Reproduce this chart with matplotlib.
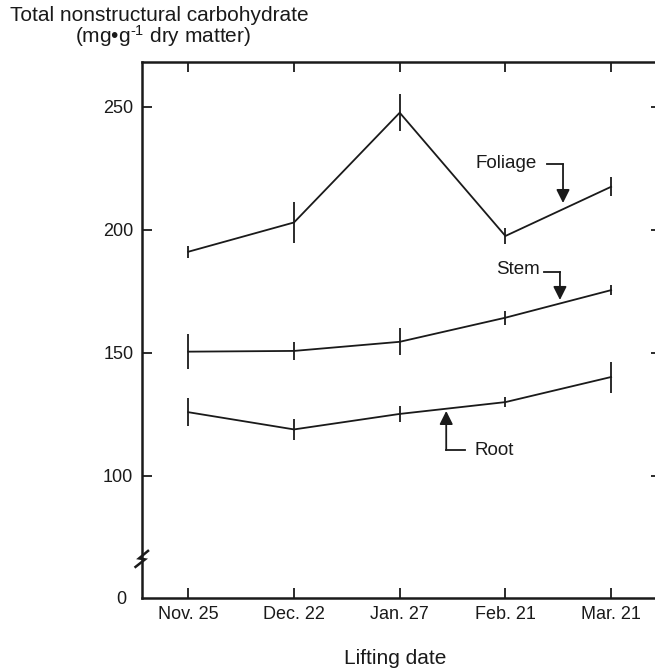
import matplotlib
matplotlib.use("Agg")
import matplotlib.pyplot as plt

plt.rcParams['font.family'] = ['Liberation Sans', 'DejaVu Sans']
plt.rcParams['mathtext.fontset'] = 'custom'
plt.rcParams['mathtext.rm'] = 'Liberation Sans'
plt.rcParams['mathtext.it'] = 'Liberation Sans'

dates = ["Nov. 25", "Dec. 22", "Jan. 27", "Feb. 21", "Mar. 21"]
foliage = [191.1, 203.0, 247.6, 197.5, 217.5]
foliage_err = [2.4, 8.3, 7.6, 3.2, 3.9]
stem = [150.5, 150.8, 154.5, 164.3, 175.5]
stem_err = [7.0, 3.5, 5.5, 2.8, 2.0]
root = [125.9, 118.9, 125.2, 130.0, 140.2]
root_err = [5.7, 4.1, 3.4, 2.0, 6.3]
yticks = [100, 150, 200, 250]

ink = '#1a1a1a'
fs = 13
fs_lab = 15

fig = plt.figure(figsize=(6.55, 6.70), dpi=100)
ax = fig.add_axes([141.7/655, 1-598/670, (661-141.7)/655, (598-62)/670])

x = list(range(len(dates)))
for vals, errs in [(foliage, foliage_err), (stem, stem_err), (root, root_err)]:
    ax.errorbar(x, vals, yerr=errs, color=ink, lw=1.3, elinewidth=1.3, capsize=0)

ax.set_xlim(-0.441, 4.472)
ax.set_ylim(50.4, 268.2)

ax.set_xticks(x)
ax.set_xticklabels(dates)
ax.set_yticks(yticks)
ax.set_yticklabels([str(v) for v in yticks])
ax.set_yticks([50.4], minor=True)
ax.set_yticklabels(["0"], minor=True)
ax.tick_params(which='major', direction='in', length=7.5, width=1.3, color=ink,
               top=True, right=True, labelsize=fs, labelcolor=ink, pad=6)
ax.tick_params(axis='y', which='minor', length=0, labelsize=fs, labelcolor=ink, pad=11)
for s in ax.spines.values():
    s.set_linewidth(1.8)
    s.set_color(ink)

# axis break mark
def px2x(px):
    return (px - 188.3) / 105.7
def px2y(py):
    return 250 - (py - 106.7) / 2.462
zx = [135.5, 145, 139, 148]
zy = [567, 559.5, 558.5, 551]
ax.plot([px2x(p) for p in zx], [px2y(p) for p in zy], color=ink, lw=1.8,
        clip_on=False, solid_joinstyle='miter')

arrow = dict(arrowstyle='-|>', color=ink, lw=1.3, mutation_scale=20, shrinkA=0, shrinkB=0)

# Foliage label
ax.text(3.30, 227.1, "Foliage", ha='right', va='center', fontsize=13.5, color=ink)
ax.plot([3.394, 3.545], [226.7, 226.7], color=ink, lw=1.3)
ax.annotate('', xy=(3.545, 210.9), xytext=(3.545, 226.7), arrowprops=arrow)

# Stem label
ax.text(3.33, 183.7, "Stem", ha='right', va='center', fontsize=13.5, color=ink)
ax.plot([3.366, 3.516], [182.9, 182.9], color=ink, lw=1.3)
ax.annotate('', xy=(3.516, 171.5), xytext=(3.516, 182.9), arrowprops=arrow)

# Root label
ax.text(2.71, 110.5, "Root", ha='left', va='center', fontsize=13.5, color=ink)
ax.plot([2.617, 2.44], [110.5, 110.5], color=ink, lw=1.3)
ax.annotate('', xy=(2.44, 126.4), xytext=(2.44, 110.5), arrowprops=arrow)

fig.text(10/655, 1-21/670, "Total nonstructural carbohydrate", ha='left',
         va='baseline', fontsize=fs_lab, color=ink)
fig.text(163/655, 1-43/670, "(mg\u2022g$^{\\text{-1}}$ dry matter)", ha='center',
         va='baseline', fontsize=fs_lab, color=ink)
fig.text(395/655, 1-658/670, "Lifting date", ha='center', va='center',
         fontsize=fs_lab, color=ink)

fig.savefig("out.png", dpi=100)
